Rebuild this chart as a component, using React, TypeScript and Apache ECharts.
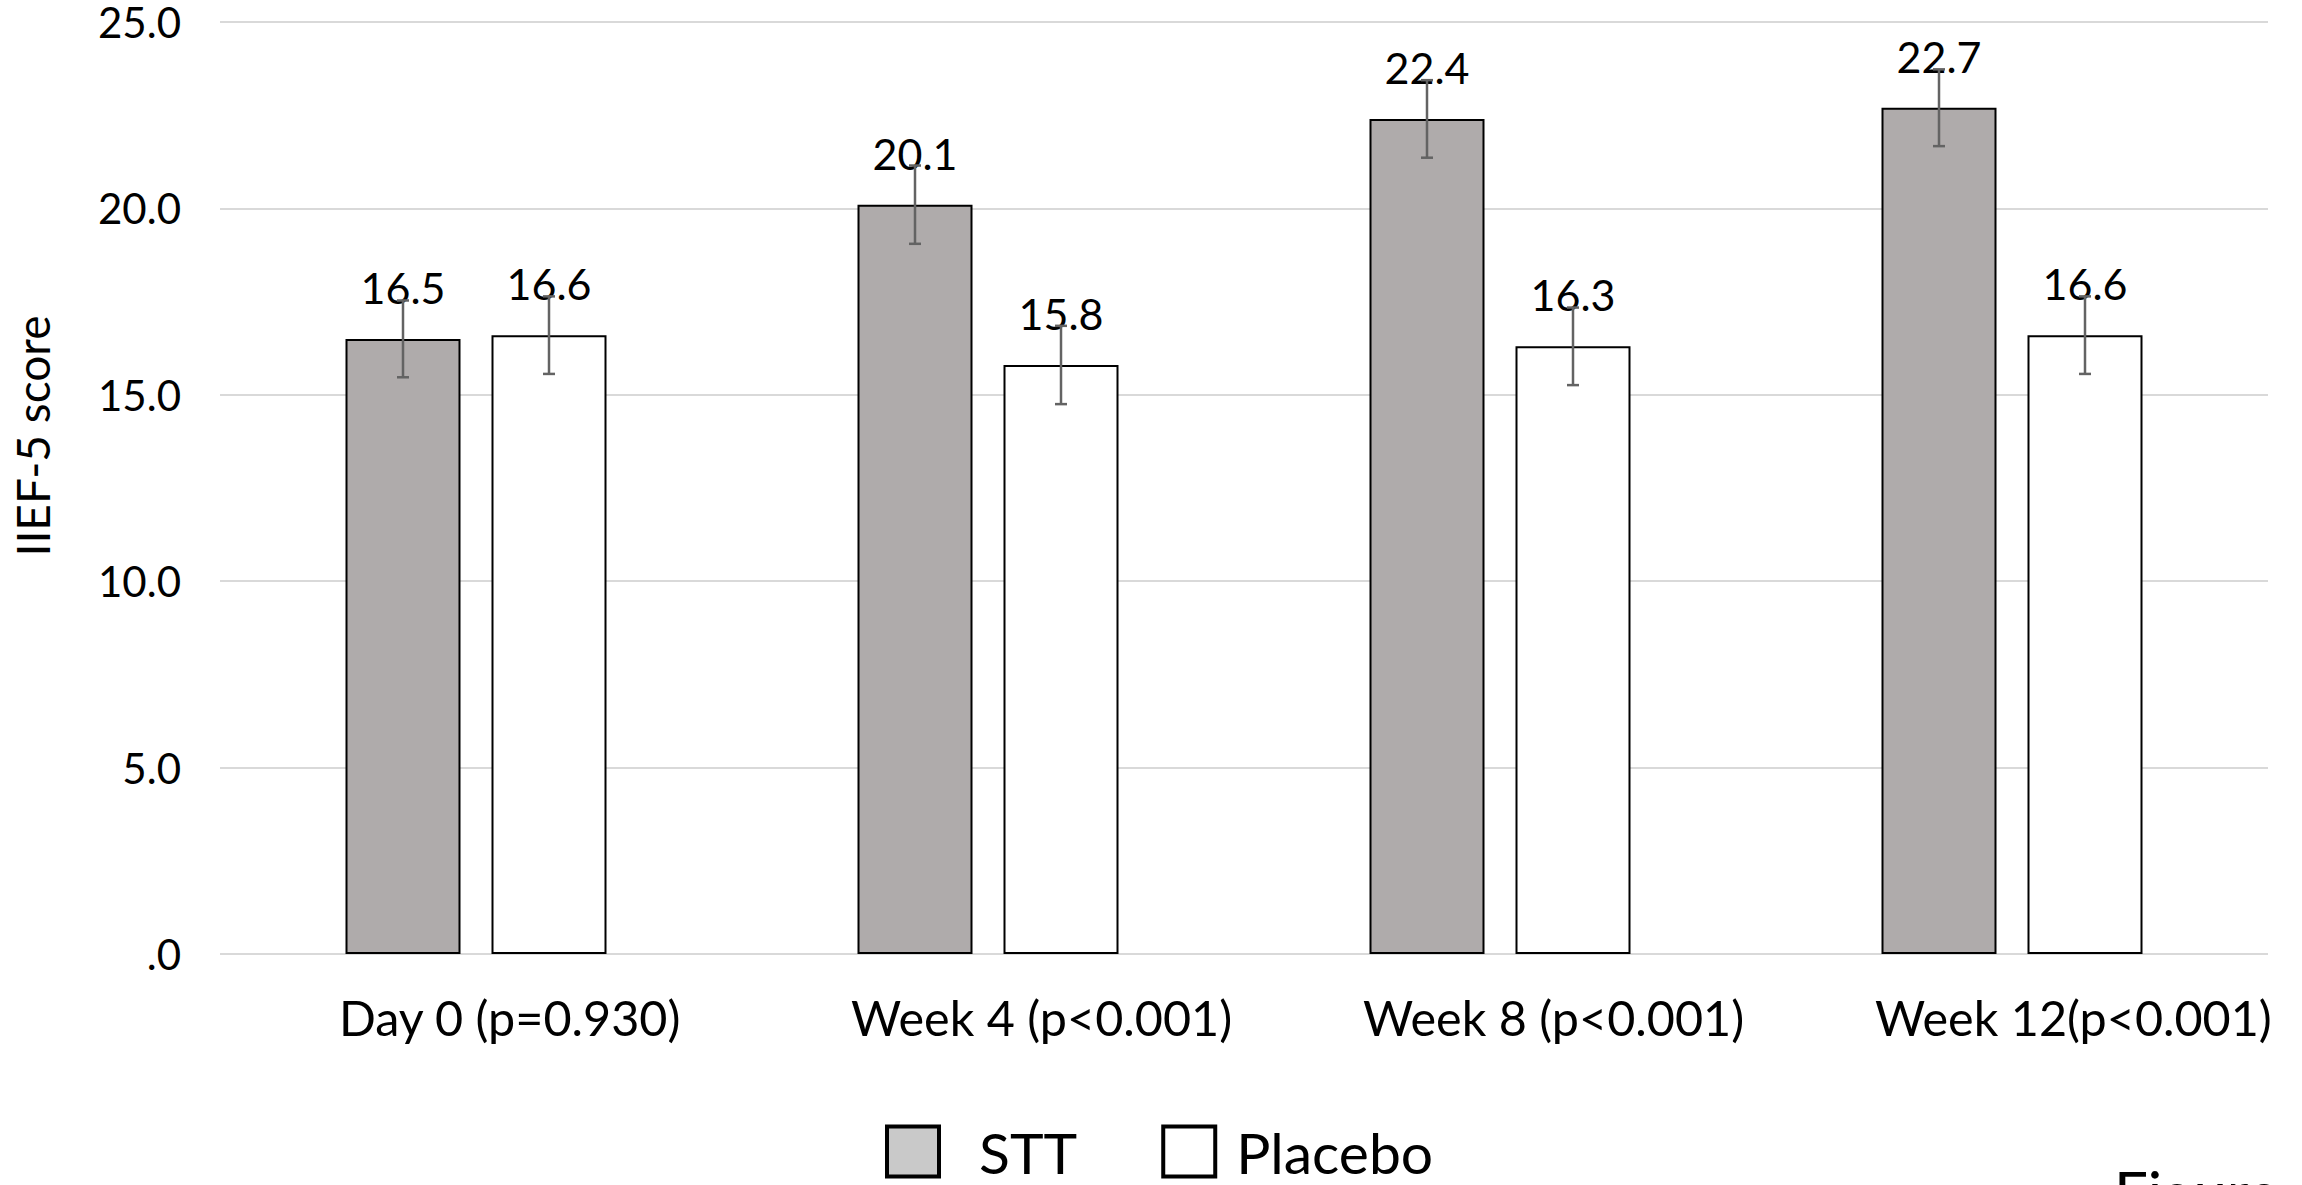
import React, { useEffect, useRef } from 'react';
import * as echarts from 'echarts';

const categories = ['Day 0 (p=0.930)', 'Week 4 (p<0.001)', 'Week 8 (p<0.001)', 'Week 12(p<0.001)'];
const seriesNames = ['STT', 'Placebo'];
const sttValues = [16.5, 20.1, 22.4, 22.7];
const placeboValues = [16.6, 15.8, 16.3, 16.6];
const sttErrors = [1.03, 1.05, 1.04, 1.03];
const placeboErrors = [1.04, 1.05, 1.04, 1.04];
const yTitle = 'IIEF-5 score';
const figureText = 'Figure';

const FONT = 'Lato';
const BAR_W = 115;
const GAP_PX = 31;

function errorSeries(name: string, values: number[], errors: number[], offset: number) {
  return {
    type: 'custom',
    name: name + ' error',
    silent: true,
    z: 5,
    encode: { x: 0, y: [1] },
    data: values.map((v, i) => [i, v, errors[i]]),
    renderItem: (params: any, api: any) => {
      const i = api.value(0);
      const v = api.value(1);
      const e = api.value(2);
      const top = api.coord([i, v + e]);
      const bot = api.coord([i, v - e]);
      const x = top[0] + offset;
      const st = { stroke: '#636363', lineWidth: 2.5 };
      return {
        type: 'group',
        children: [
          { type: 'line', shape: { x1: x, y1: top[1], x2: x, y2: bot[1] }, style: st },
          { type: 'line', shape: { x1: x - 6, y1: top[1], x2: x + 6, y2: top[1] }, style: st },
          { type: 'line', shape: { x1: x - 6, y1: bot[1], x2: x + 6, y2: bot[1] }, style: st },
        ],
      };
    },
  };
}

export default function App() {
  const ref = useRef<HTMLDivElement>(null);
  useEffect(() => {
    if (!ref.current) return;
    const chart = echarts.init(ref.current, undefined, { renderer: 'svg' });
    const barLabel = {
      show: true,
      position: 'top',
      distance: 30,
      fontFamily: FONT,
      fontSize: 43,
      color: '#000',
      formatter: (p: any) => Number(p.value).toFixed(1),
    };
    const legendText = (padLeft: number) => ({
      fontSize: 57,
      fontFamily: FONT,
      color: '#000',
      padding: [0, 0, 16, padLeft],
    });
    chart.setOption({
      animation: false,
      backgroundColor: '#fff',
      grid: { left: 220, right: 34, top: 22, bottom: 231 },
      xAxis: {
        type: 'category',
        data: categories,
        axisLine: { show: false },
        axisTick: { show: false },
        axisLabel: {
          interval: 0,
          align: 'left',
          padding: [0, 0, 0, -137],
          margin: 38,
          fontSize: 48.5,
          fontFamily: FONT,
          color: '#000',
        },
      },
      yAxis: {
        type: 'value',
        min: 0,
        max: 25,
        interval: 5,
        axisLine: { show: false },
        axisTick: { show: false },
        splitLine: { lineStyle: { color: '#d9d9d9', width: 2 } },
        axisLabel: {
          margin: 39,
          fontSize: 42,
          lineHeight: 30,
          fontFamily: FONT,
          color: '#000',
          formatter: (v: number) => (v === 0 ? '.0' : v.toFixed(1)),
        },
      },
      legend: {
        left: 880,
        top: 1118,
        icon: 'rect',
        itemWidth: 52,
        itemHeight: 50,
        itemGap: 84,
        textStyle: legendText(35),
        data: [
          { name: seriesNames[0], itemStyle: { color: '#c9c9c9', borderColor: '#000', borderWidth: 4 } },
          {
            name: seriesNames[1],
            itemStyle: { color: '#ffffff', borderColor: '#000', borderWidth: 4 },
            textStyle: legendText(16),
          },
        ],
      },
      graphic: [
        {
          type: 'text',
          x: 32,
          y: 436,
          rotation: Math.PI / 2,
          style: { text: yTitle, fontSize: 46, fontFamily: FONT, fill: '#000', align: 'center', verticalAlign: 'middle' },
        },
        {
          type: 'text',
          x: 2114,
          y: 1192,
          style: { text: figureText, fontSize: 60, fontFamily: FONT, fill: '#000', align: 'left', verticalAlign: 'middle' },
        },
      ],
      series: [
        {
          type: 'bar',
          name: seriesNames[0],
          data: sttValues,
          barWidth: BAR_W,
          barGap: (GAP_PX / BAR_W) * 100 + '%',
          itemStyle: { color: '#afabab', borderColor: '#000', borderWidth: 2 },
          label: barLabel,
        },
        {
          type: 'bar',
          name: seriesNames[1],
          data: placeboValues,
          barWidth: BAR_W,
          barGap: (GAP_PX / BAR_W) * 100 + '%',
          itemStyle: { color: '#ffffff', borderColor: '#000', borderWidth: 2 },
          label: barLabel,
        },
        errorSeries(seriesNames[0], sttValues, sttErrors, -(BAR_W + GAP_PX) / 2),
        errorSeries(seriesNames[1], placeboValues, placeboErrors, (BAR_W + GAP_PX) / 2),
      ],
    });
    return () => chart.dispose();
  }, []);
  return <div ref={ref} style={{ position: 'fixed', left: 0, top: 0, width: 2302, height: 1185 }} />;
}
